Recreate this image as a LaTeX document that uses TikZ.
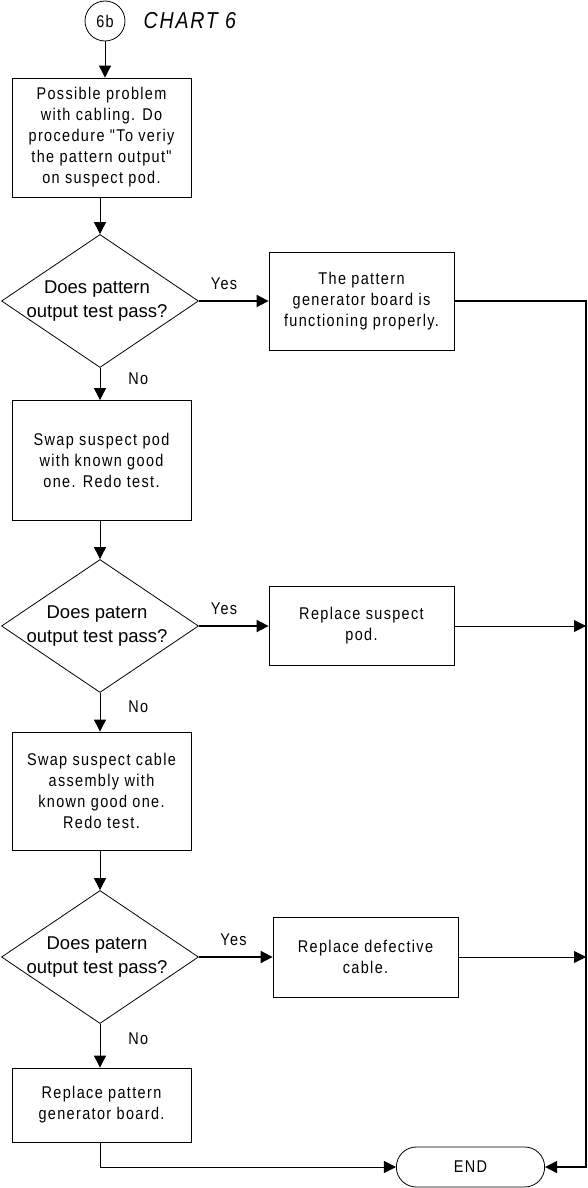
\documentclass[tikz,border=0pt]{standalone}
\usepackage{fontspec}
\setmainfont{Liberation Sans}
\newfontfamily\flowfont[FakeStretch=0.85,LetterSpace=8]{Liberation Sans}
\usetikzlibrary{shapes.geometric, shapes.misc, arrows.meta, positioning}
\newcommand{\boxtxt}{\flowfont\fontsize{17}{21}\selectfont}
\newcommand{\decisiontxt}{\fontsize{18.5}{24}\selectfont}
\tikzset{
  procnode/.style={draw, line width=0.8pt, minimum width=179pt, font=\boxtxt, align=center, inner sep=2pt},
  resultnode/.style={procnode, minimum width=185pt},
  decnode/.style={diamond, draw, line width=0.8pt, minimum width=197pt, minimum height=133pt, inner sep=0pt},
  dectxt/.style={font=\decisiontxt, align=center, inner sep=0pt},
  endnode/.style={rounded rectangle, draw, line width=0.8pt, minimum width=155pt, minimum height=40pt, font=\boxtxt},
  connnode/.style={circle, draw, line width=0.8pt, minimum size=40pt, inner sep=0pt, font=\boxtxt},
  anslabel/.style={font=\boxtxt, inner sep=0pt},
  flowarr/.style={-{Triangle[length=12pt,width=12pt]}, line width=0.9pt},
  yesarr/.style={flowarr, line width=1.8pt},
  railline/.style={line width=1.5pt},
}

\begin{document}
\begin{tikzpicture}[x=1pt, y=-1pt]
  \useasboundingbox (0,0) rectangle (588,1188);
  % entry point
  \node[connnode] (c6b) at (105,21) {6b};
  \node[anslabel, font=\flowfont\itshape\fontsize{23}{26}\selectfont, right=18pt of c6b] (title) {CHART 6};
  \node[procnode, minimum height=119pt] (cabl) at (101.5,137.5) {Possible problem\\with cabling. Do\\procedure "To veriy\\the pattern output"\\on suspect pod.};
  % first test
  \node[decnode] (d1) at (100,301) {};
  \node[dectxt] (d1t) at ([xshift=-3pt]d1.center) {Does pattern\\output test pass?};
  \node[resultnode, minimum height=98pt] (okpg) at (361.5,301) {The pattern\\generator board is\\functioning properly.};
  \node[procnode, minimum height=120pt] (swpod) at (101.5,460.5) {Swap suspect pod\\with known good\\one. Redo test.};
  % second test
  \node[decnode] (d2) at (100,626) {};
  \node[dectxt] (d2t) at ([xshift=-3pt]d2.center) {Does patern\\output test pass?};
  \node[resultnode, minimum height=79pt] (rppod) at (361.5,626) {Replace suspect\\pod.};
  \node[procnode, minimum height=118pt] (swcab) at (101.5,791) {Swap suspect cable\\assembly with\\known good one.\\Redo test.};
  % third test
  \node[decnode] (d3) at (100,957) {};
  \node[dectxt] (d3t) at ([xshift=-3pt]d3.center) {Does patern\\output test pass?};
  \node[resultnode, minimum height=80pt] (rpcab) at (365.5,957) {Replace defective\\cable.};
  \node[procnode, minimum height=74pt] (rppg) at (101.5,1105) {Replace pattern\\generator board.};
  \node[endnode] (endn) at (470.5,1167) {END};
  \coordinate (railend) at (586,1167);

  % main column
  \draw[flowarr] (c6b) -- (c6b |- cabl.north);
  \draw[flowarr] (d1 |- cabl.south) -- (d1.north);
  \draw[flowarr] (d1.south) -- node[anslabel, pos=0.35, right=28pt] {No} (d1.south |- swpod.north);
  \draw[flowarr] (d2 |- swpod.south) -- (d2.north);
  \draw[flowarr] (d2.south) -- node[anslabel, pos=0.35, right=28pt] {No} (d2.south |- swcab.north);
  \draw[flowarr] (d3 |- swcab.south) -- (d3.north);
  \draw[flowarr] (d3.south) -- node[anslabel, pos=0.35, right=28pt] {No} (d3.south |- rppg.north);
  \draw[flowarr] (d3 |- rppg.south) |- (endn.west);
  % yes branches
  \draw[yesarr] (d1.east) -- node[anslabel, pos=0.36, above=10pt] {Yes} (okpg.west);
  \draw[yesarr] (d2.east) -- node[anslabel, pos=0.36, above=10pt] {Yes} (rppod.west);
  \draw[yesarr] (d3.east) -- node[anslabel, pos=0.47, above=10pt] {Yes} (rpcab.west);
  % right rail
  \draw[flowarr, railline] (okpg.east) -| (railend) -- (endn.east);
  \draw[flowarr] (rppod.east) -- (rppod.east -| railend);
  \draw[flowarr] (rpcab.east) -- (rpcab.east -| railend);
\end{tikzpicture}
\end{document}
